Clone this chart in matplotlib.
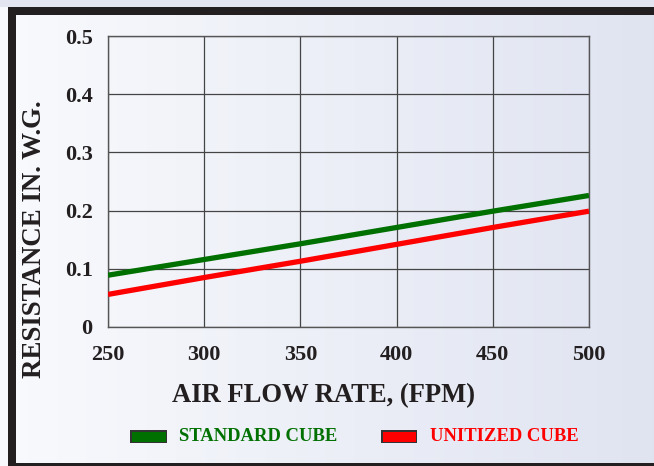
import matplotlib
matplotlib.use("Agg")
import matplotlib.pyplot as plt
import numpy as np
from matplotlib.patches import Rectangle

air_flow = [250, 300, 350, 400, 450, 500]
standard_cube = [0.089, 0.116, 0.143, 0.171, 0.199, 0.226]
unitized_cube = [0.056, 0.085, 0.113, 0.142, 0.171, 0.199]
x_ticks = [250, 300, 350, 400, 450, 500]
y_ticks = [0, 0.1, 0.2, 0.3, 0.4, 0.5]
y_tick_labels = ["0", "0.1", "0.2", "0.3", "0.4", "0.5"]

W, H = 654, 466
fig = plt.figure(figsize=(W / 100, H / 100), dpi=100)
serif = ["Liberation Serif", "DejaVu Serif"]

# background gradient
bg = fig.add_axes([0, 0, 1, 1], zorder=-10)
grad = np.linspace(0, 1, 256)
c0 = np.array([0.975, 0.980, 0.992])
c1 = np.array([0.878, 0.894, 0.945])
img = (c0[None, :] * (1 - grad[:, None]) + c1[None, :] * grad[:, None])[None, :, :]
bg.imshow(img, aspect="auto", extent=[0, 1, 0, 1])
bg.set_xlim(0, 1); bg.set_ylim(0, 1)
bg.axis("off")
# frame borders
def px_rect(x0, y0, x1, y1, color):
    bg.add_patch(Rectangle((x0 / W, 1 - y1 / H), (x1 - x0) / W, (y1 - y0) / H,
                           color=color, lw=0, transform=bg.transAxes))
px_rect(0, 0, W, 7, "#e3e6f0")
px_rect(8, 7, W, 15, "#231f20")
px_rect(8, 7, 16, H, "#231f20")
px_rect(8, 463, W, H, "#231f20")

ax = fig.add_axes([108 / W, 1 - 327 / H, (589 - 108) / W, (327 - 36) / H])
ax.set_facecolor("none")
ax.plot(air_flow, standard_cube, color="#007000", lw=3.8, solid_capstyle="butt", zorder=3)
ax.plot(air_flow, unitized_cube, color="#ff0000", lw=3.8, solid_capstyle="butt", zorder=3)
ax.set_xlim(250, 500)
ax.set_ylim(0, 0.5)
ax.set_xticks(x_ticks)
ax.set_yticks(y_ticks)
ax.set_yticklabels(y_tick_labels)
ax.grid(True, color="#444444", lw=0.9)
ax.set_axisbelow(True)
for s in ax.spines.values():
    s.set_color("#555555"); s.set_linewidth(1.0)
ax.tick_params(length=0, labelsize=16, labelcolor="#231f20")
ax.tick_params(axis="y", pad=11)
ax.tick_params(axis="x", pad=13)
for lab in ax.get_xticklabels() + ax.get_yticklabels():
    lab.set_fontfamily(serif); lab.set_fontweight("bold")

fig.text(35 / W, 1 - 239 / H, "RESISTANCE IN. W.G.", rotation=90, ha="center", va="center",
         fontsize=19.4, fontweight="bold", family=serif, color="#231f20")
fig.text(323 / W, 1 - 396 / H, "AIR FLOW RATE, (FPM)", ha="center", va="center",
         fontsize=19.2, fontweight="bold", family=serif, color="#231f20")

# legend
px_rect(130, 430, 167, 443, "#333333")
px_rect(131.5, 431.5, 165.5, 441.5, "#007000")
px_rect(381, 430, 417, 443, "#333333")
px_rect(382.5, 431.5, 415.5, 441.5, "#ff0000")
fig.text(179 / W, 1 - 436.5 / H, "STANDARD CUBE", ha="left", va="center",
         fontsize=13.4, fontweight="bold", family=serif, color="#007000")
fig.text(430 / W, 1 - 436.5 / H, "UNITIZED CUBE", ha="left", va="center",
         fontsize=13.4, fontweight="bold", family=serif, color="#ff0000")

fig.savefig("out.png", dpi=100)
